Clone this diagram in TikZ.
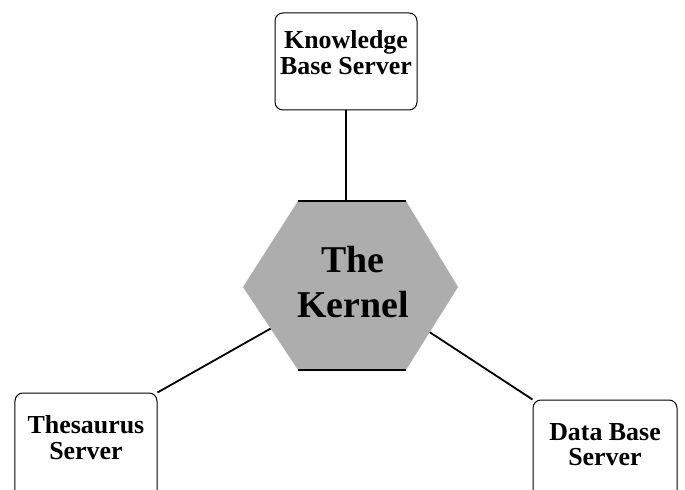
\documentclass[tikz,border=0pt]{standalone}
\usepackage{fontspec}
\setmainfont{Liberation Serif}
\begin{document}
\begin{tikzpicture}[x=1bp,y=-1bp,
  server/.style={draw,rounded corners=8bp,line width=1bp,align=center,inner sep=0pt,
    font=\fontsize{26}{26}\selectfont\bfseries},
  link/.style={line width=1.8bp}]
\useasboundingbox (0,0) rectangle (685,490);
%servidores
  \node[server,minimum width=142bp,minimum height=97bp,text depth=18bp] (know) at (346,61.5) {Knowledge\\Base Server};
  \node[server,minimum width=142bp,minimum height=127bp,text depth=38bp] (thes) at (86,456.5) {Thesaurus\\Server};
  \node[server,minimum width=144bp,minimum height=120bp,text depth=31bp] (data) at (605,460) {Data Base\\Server};
  \coordinate (core) at (353,282);

%ligacoes
  \draw[link] (know.south) -- (know.south |- core);
  \draw[link] (thes.north east) -- (core);
  \draw[link] (data.north west) -- (core);

%nucleo
  \fill[black!32] (298,201) -- (406,201) -- (458,287) -- (406,370) -- (298,370) -- (243,287) -- cycle;
  \draw[line width=1.2bp] (298,201) -- (406,201);
  \draw[line width=1.2bp] (298,370) -- (406,370);
  \node[font=\fontsize{38}{45}\selectfont\bfseries,align=center] (kernel) at (core) {The\\Kernel};
\end{tikzpicture}
\end{document}
